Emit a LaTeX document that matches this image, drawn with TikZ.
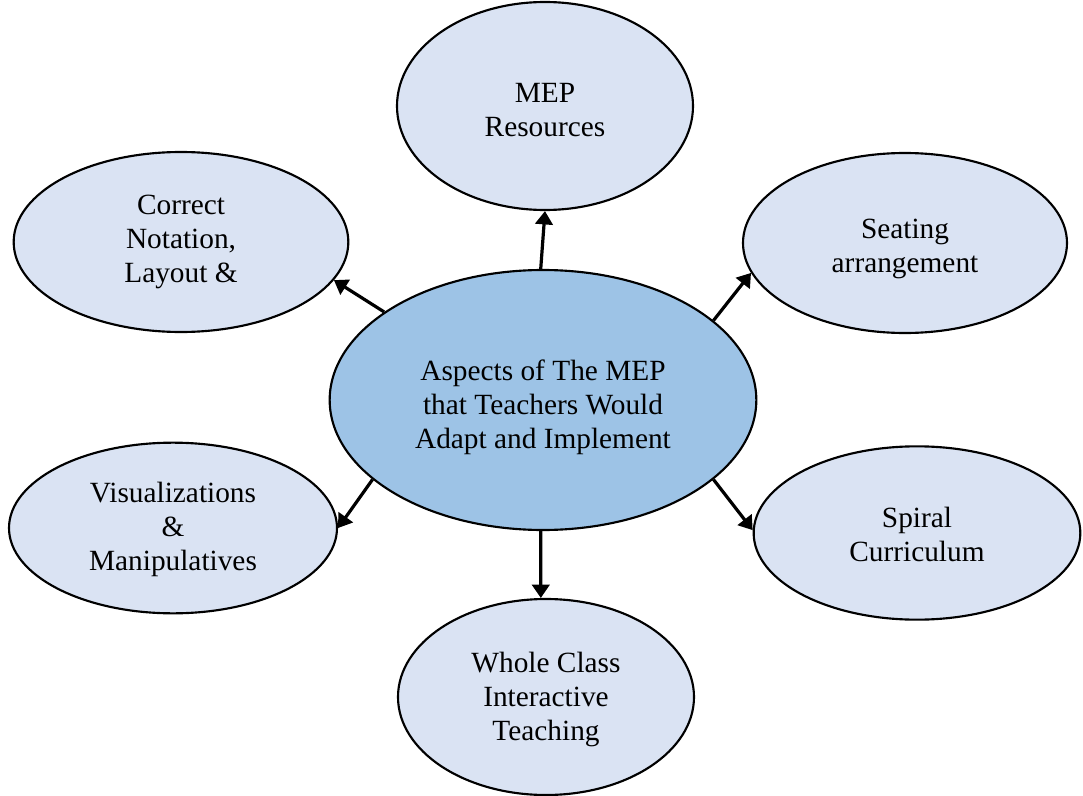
\documentclass[tikz,border=0pt]{standalone}
\usepackage{fontspec}
\setmainfont{Liberation Serif}
\usetikzlibrary{shapes.geometric,arrows.meta}
\definecolor{lightfill}{HTML}{DAE3F3}
\definecolor{centerfill}{HTML}{9DC3E6}
\newcommand{\pushdown}[1]{\rule{0pt}{#1}}
\begin{document}
\begin{tikzpicture}[x=0.75pt,y=-0.75pt,
  bubble/.style={ellipse,draw=black,line width=1.6pt,fill=lightfill,inner sep=0pt,align=center,
    font=\fontsize{22}{25.5}\selectfont},
  hub/.style={bubble,fill=centerfill},
  link/.style={line width=2.4pt,-{Triangle[length=10pt,width=13pt]}}]
\useasboundingbox (0,0) rectangle (1083,796);
\node[hub,minimum width=320pt,minimum height=195pt] (c) at (543,400) {\pushdown{27pt}Aspects of The MEP\\that Teachers Would\\Adapt and Implement};
\node[bubble,minimum width=222pt,minimum height=156pt] (t) at (545,106) {\pushdown{21pt}MEP\\Resources};
\node[bubble,minimum width=251pt,minimum height=135pt] (ul) at (181,242) {Correct\\Notation,\\Layout \&};
\node[bubble,minimum width=243pt,minimum height=135pt] (ur) at (905,243) {\pushdown{24pt}Seating\\arrangement};
\node[bubble,minimum width=246pt,minimum height=128pt] (ll) at (173,528) {\pushdown{18pt}Visualizations\\\&\\Manipulatives};
\node[bubble,minimum width=245pt,minimum height=130pt] (lr) at (917,533) {\pushdown{17pt}Spiral\\Curriculum};
\node[bubble,minimum width=222pt,minimum height=147pt] (b) at (546,697) {\pushdown{19pt}Whole Class\\Interactive\\Teaching};
\draw[link] (c.91) -- (t.270);
\draw[link] (c.151) -- (ul.346);
\draw[link] (c.25.7) -- (ur.191);
\draw[link] (c.205.8) -- (ll.0);
\draw[link] (c.335.2) -- (lr.179);
\draw[link] (c.269) -- (b.93);
\end{tikzpicture}
\end{document}
